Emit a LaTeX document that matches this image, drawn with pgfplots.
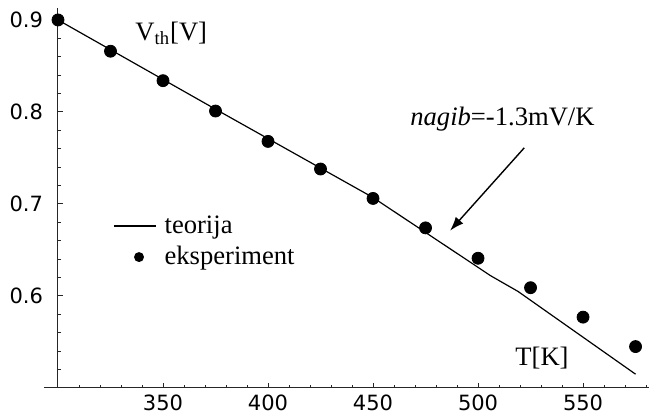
\documentclass[border=0pt]{standalone}
\usepackage{fontspec}
\setmainfont{Liberation Serif}
\newfontfamily\tickfont{DejaVu Sans}
\usepackage{pgfplots}
\pgfplotsset{compat=1.18}
\usetikzlibrary{arrows.meta}
\pgfplotsset{
  teolegend/.style={legend image code/.code={\draw[##1] (0pt,0pt) -- (21pt,0pt);}},
  explegend/.style={legend image code/.code={\path[draw=none] (0pt,0pt) -- (21pt,0pt); \fill[black,draw=none] (12.5pt,0pt) circle[radius=2.5pt];}},
}
\begin{document}
\begin{tikzpicture}
\begin{axis}[
  name=ax,
  scale only axis,
  width=295.5pt, height=190pt,
  xmin=300, xmax=581.4, ymin=0.5, ymax=0.913,
  axis lines*=left,
  axis line style={line width=0.5pt, black!85},
  clip=false,
  tick align=inside,
  major tick length=2.5pt, minor tick length=1.3pt,
  tick style={line width=0.5pt, black!85},
  xtick={350,400,450,500,550},
  ytick={0.6,0.7,0.8,0.9},
  minor xtick={310,320,330,340,360,370,380,390,410,420,430,440,460,470,480,490,510,520,530,540,560,570,580},
  minor ytick={0.52,0.54,0.56,0.58,0.62,0.64,0.66,0.68,0.72,0.74,0.76,0.78,0.82,0.84,0.86,0.88},
  /pgf/number format/assume math mode=true,
  ticklabel style={font=\tickfont\fontsize{10.5}{12}\selectfont},
  yticklabel style={xshift=-4pt},
  xticklabel style={yshift=0pt},
  yticklabel={\pgfmathprintnumber[fixed,precision=1]{\tick}},
  legend style={at={(axis cs:326.2,0.692)}, anchor=north west, draw=none, fill=none,
    inner sep=0pt, font=\fontsize{13.3}{15}\selectfont, row sep=1pt,
    nodes={inner xsep=4pt}},
  legend cell align=left,
]
\addplot[black, line width=0.6pt, no marks, teolegend]
  coordinates {(300,0.900) (375,0.803) (450,0.707) (506,0.622) (519,0.605) (575,0.515)};
\addlegendentry{teorija}
\addplot[only marks, mark=*, mark size=3pt, black, explegend]
  coordinates {(300,0.900) (325,0.866) (350,0.834) (375,0.801) (400,0.768) (425,0.738) (450,0.706) (475,0.674) (500,0.641) (525,0.609) (550,0.577) (575,0.545)};
\addlegendentry{eksperiment}
\draw[line width=0.5pt, black!85] (axis cs:293.3,0.5) -- (axis cs:300,0.5);
\node[anchor=base west, inner sep=0pt, font=\fontsize{13.3}{15}\selectfont] at (axis cs:336.7,0.878) {V\textsubscript{th}[V]};
\node[anchor=base west, inner sep=0pt, font=\fontsize{13.3}{15}\selectfont] at (axis cs:467.6,0.7848) {\textit{nagib}=-1.3mV/K};
\node[anchor=base west, inner sep=0pt, font=\fontsize{13.3}{15}\selectfont] at (axis cs:517.6,0.524) {T[K]};
\draw[line width=0.7pt, -{Latex[length=7pt,width=5pt]}] (axis cs:522,0.761) -- (axis cs:486.7,0.671);
\end{axis}
\pgfresetboundingbox
\path[use as bounding box] (ax.south west) ++(-29pt,-14pt) rectangle ++(325pt,208pt);
\end{tikzpicture}
\end{document}
